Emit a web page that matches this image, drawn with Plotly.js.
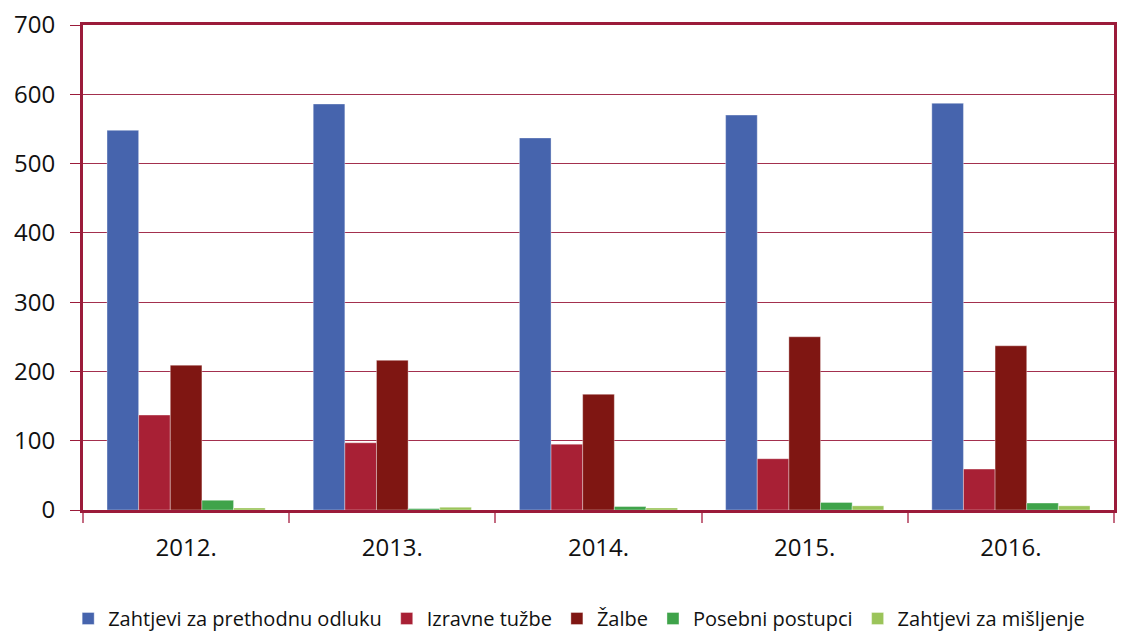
<!DOCTYPE html>
<html>
<head>
<meta charset="utf-8">
<script src="https://cdn.plot.ly/plotly-3.0.1.min.js"></script>
<style>html,body{margin:0;padding:0;background:#fff;}#chart{width:1129px;height:638px;}</style>
</head>
<body>
<div id="chart"></div>
<script>
const years = ["2012.", "2013.", "2014.", "2015.", "2016."];
const seriesNames = ["Zahtjevi za prethodnu odluku", "Izravne tužbe", "Žalbe", "Posebni postupci", "Zahtjevi za mišljenje"];
const prethodnaOdluka = [548, 586, 537, 570, 587];
const izravneTuzbe = [137, 97, 95, 74, 59];
const zalbe = [209, 216, 167, 250, 237];
const posebniPostupci = [14, 2, 5, 11, 10];
const zahtjeviMisljenje = [3, 4, 3, 6, 6];
const colors = ["#4664ad", "#a82035", "#7f1612", "#3fa34a", "#9bc45a"];
const values = [prethodnaOdluka, izravneTuzbe, zalbe, posebniPostupci, zahtjeviMisljenje];

const traces = values.map((v, i) => ({
  type: "bar",
  name: seriesNames[i],
  x: years,
  y: v,
  marker: {color: colors[i], line: {color: "rgba(255,255,255,0.35)", width: 1}},
  hoverinfo: "x+y+name"
}));

const frame = "#9b1b3a";
const layout = {
  width: 1129, height: 638,
  margin: {l: 83, r: 15, t: 25, b: 128},
  paper_bgcolor: "#fff", plot_bgcolor: "#fff",
  font: {family: "Open Sans, sans-serif", color: "#111"},
  barmode: "group",
  bargap: 0.233,
  bargroupgap: 0,
  showlegend: true,
  legend: {orientation: "h", x: 0.513, xref: "container", xanchor: "center", y: 0, yref: "container", yanchor: "bottom",
           font: {size: 20, color: "#111"}, traceorder: "normal", itemwidth: 30, tracegroupgap: 0},
  xaxis: {
    type: "category",
    showline: true, linecolor: frame, linewidth: 3, mirror: true,
    ticks: "outside", tickson: "boundaries", ticklen: 10, tickcolor: "#c46b82", tickwidth: 1.5,
    tickfont: {size: 24, color: "#111"}, ticklabelstandoff: 14,
    showgrid: false, zeroline: false
  },
  yaxis: {
    range: [0, 700], dtick: 100,
    showline: true, linecolor: frame, linewidth: 3, mirror: true,
    ticks: "outside", ticklen: 10, tickcolor: frame, tickwidth: 1,
    tickfont: {size: 24, color: "#111"}, ticklabelstandoff: 10,
    showgrid: true, gridcolor: "#a3304e", gridwidth: 1,
    zeroline: false
  }
};

Plotly.newPlot("chart", traces, layout, {displayModeBar: false});
</script>
</body>
</html>
